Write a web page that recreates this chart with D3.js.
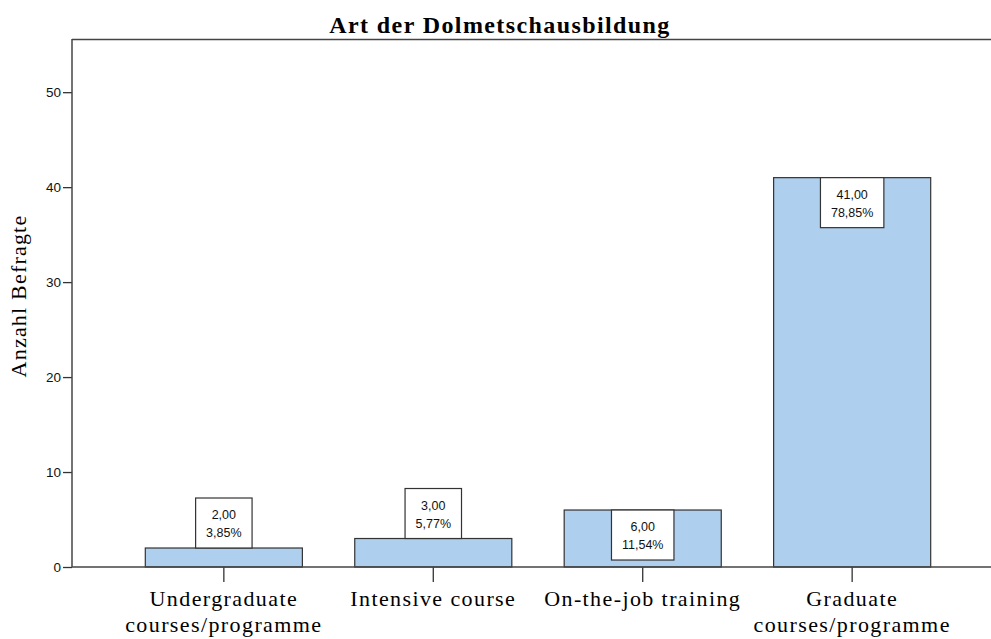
<!DOCTYPE html>
<html>
<head>
<meta charset="utf-8">
<script src="https://cdn.jsdelivr.net/npm/d3@7"></script>
<style>
  body { margin: 0; background: #fff; }
  svg { display: block; }
</style>
</head>
<body>
<div id="chart"></div>
<script>
// data
var categories = ["Undergraduate\ncourses/programme", "Intensive course", "On-the-job training", "Graduate\ncourses/programme"]
var counts = [2, 3, 6, 41]
var percents = ["3,85%", "5,77%", "11,54%", "78,85%"]
var yTicks = [0, 10, 20, 30, 40, 50]

var width = 991,
    height = 639

var plotLeft = 72, plotTop = 39, plotBottom = 567

var svg = d3.select("#chart")
  .append("svg")
    .attr("width", width)
    .attr("height", height)

// scales
var x = d3.scaleBand()
  .domain(categories)
  .range([plotLeft, 1004])
  .paddingInner(0.25)
  .paddingOuter(0.35)

var y = d3.scaleLinear()
  .domain([0, 55.6])
  .range([plotBottom, plotTop])

// frame: top line
svg.append("line")
  .attr("x1", plotLeft).attr("x2", width)
  .attr("y1", plotTop + 0.5).attr("y2", plotTop + 0.5)
  .attr("stroke", "#444").attr("stroke-width", 1.5)

// bars
svg.selectAll("rect.bar")
  .data(categories)
  .enter()
  .append("rect")
    .attr("class", "bar")
    .attr("x", function(d) { return x(d) })
    .attr("y", function(d, i) { return y(counts[i]) })
    .attr("width", x.bandwidth())
    .attr("height", function(d, i) { return plotBottom - y(counts[i]) })
    .attr("fill", "#aecfee")
    .attr("stroke", "#333")
    .attr("stroke-width", 1.2)

// y axis
var yAxis = svg.append("g")
  .attr("transform", "translate(" + plotLeft + ",0)")
  .call(d3.axisLeft(y).tickValues(yTicks).tickSize(9).tickPadding(2).tickSizeOuter(0))
yAxis.select(".domain").remove()
yAxis.append("line")
  .attr("x1", 0).attr("x2", 0)
  .attr("y1", plotTop).attr("y2", plotBottom)
  .attr("stroke", "#444").attr("stroke-width", 1.5)
yAxis.selectAll(".tick line").attr("stroke", "#333").attr("stroke-width", 1.3)
yAxis.selectAll(".tick text")
  .style("font-family", "'Liberation Sans', Arial, sans-serif")
  .style("font-size", "13.5px")
  .attr("fill", "#111")

// x axis
var xAxis = svg.append("g")
  .attr("transform", "translate(0," + plotBottom + ")")
  .call(d3.axisBottom(x).tickSize(15).tickSizeOuter(0).tickFormat(""))
xAxis.select(".domain").remove()
xAxis.append("line")
  .attr("x1", plotLeft).attr("x2", width)
  .attr("y1", 0).attr("y2", 0)
  .attr("stroke", "#444").attr("stroke-width", 1.5)
xAxis.selectAll(".tick line").attr("stroke", "#333").attr("stroke-width", 1.3)

// category labels, split into lines
svg.selectAll("text.cat")
  .data(categories)
  .enter()
  .append("text")
    .attr("class", "cat")
    .attr("x", function(d) { return x(d) + x.bandwidth() / 2 })
    .attr("y", 606)
    .attr("text-anchor", "middle")
    .style("font-family", "'Liberation Serif', 'Times New Roman', serif")
    .style("font-size", "22px")
    .style("letter-spacing", "1.4px")
    .each(function(d) {
      var t = d3.select(this)
      d.split("\n").forEach(function(line, k) {
        t.append("tspan")
          .attr("x", x(d) + x.bandwidth() / 2)
          .attr("dy", k == 0 ? 0 : 26)
          .text(line)
      })
    })

// value label boxes
var labels = svg.selectAll("g.lab")
  .data(categories)
  .enter()
  .append("g")
    .attr("class", "lab")

labels.each(function(d, i) {
  var g = d3.select(this)
  var cx = x(d) + x.bandwidth() / 2
  var t1 = g.append("text").text(d3.format(".2f")(counts[i]).replace(".", ","))
  var t2 = g.append("text").text(percents[i])
  g.selectAll("text")
    .attr("text-anchor", "middle")
    .style("font-family", "'Liberation Sans', Arial, sans-serif")
    .style("font-size", "12.5px")
    .attr("fill", "#111")
  var w = Math.max(t1.node().getComputedTextLength(), t2.node().getComputedTextLength()) + 21
  var h = 50
  var top = y(counts[i])
  // box sits above short bars, inside tall ones
  var boxTop = (plotBottom - top) < h ? top - h : top
  g.insert("rect", "text")
    .attr("x", cx - w / 2).attr("y", boxTop)
    .attr("width", w).attr("height", h)
    .attr("fill", "#fff")
    .attr("stroke", "#333")
    .attr("stroke-width", 1.2)
  t1.attr("x", cx).attr("y", boxTop + 21)
  t2.attr("x", cx).attr("y", boxTop + 39)
})

// title
svg.append("text")
  .attr("x", 500)
  .attr("y", 33)
  .attr("text-anchor", "middle")
  .style("font-family", "'Liberation Serif', 'Times New Roman', serif")
  .style("font-weight", "bold")
  .style("font-size", "24px")
  .style("letter-spacing", "1.4px")
  .text("Art der Dolmetschausbildung")

// y axis title
svg.append("text")
  .attr("transform", "translate(26,296) rotate(-90)")
  .attr("text-anchor", "middle")
  .style("font-family", "'Liberation Serif', 'Times New Roman', serif")
  .style("font-size", "22px")
  .style("letter-spacing", "1.2px")
  .text("Anzahl Befragte")
</script>
</body>
</html>
